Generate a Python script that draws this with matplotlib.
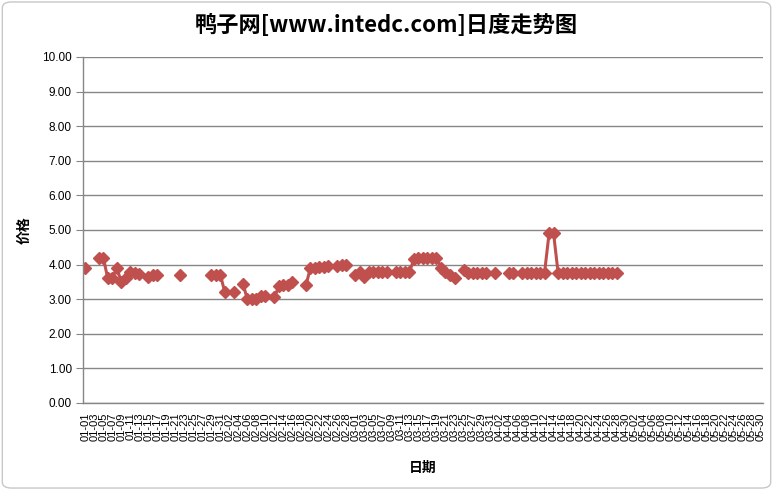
import matplotlib
matplotlib.use("Agg")
import matplotlib.pyplot as plt
import numpy as np
import pandas as pd
from matplotlib.patches import FancyBboxPatch

plt.rcParams['font.family'] = ['Liberation Sans', 'Noto Sans CJK SC', 'DejaVu Sans']

# 2012 daily price, missing days are gaps in the line
all_days = pd.date_range("2012-01-01", "2012-05-30", freq="D")

dates = [
    "01-01", "01-04", "01-05", "01-06", "01-07", "01-08", "01-09", "01-10",
    "01-11", "01-12", "01-13", "01-15", "01-16", "01-17", "01-22",
    "01-29", "01-30", "01-31", "02-01", "02-03", "02-05", "02-06", "02-07",
    "02-08", "02-09", "02-10", "02-12", "02-13", "02-14", "02-15", "02-16",
    "02-19", "02-20", "02-21", "02-22", "02-23", "02-24", "02-26", "02-27",
    "02-28", "03-01", "03-02", "03-03", "03-04", "03-05", "03-06", "03-07",
    "03-08", "03-10", "03-11", "03-12", "03-13", "03-14", "03-15", "03-16",
    "03-17", "03-18", "03-19", "03-20", "03-21", "03-22", "03-23", "03-25",
    "03-26", "03-27", "03-28", "03-29", "03-30", "04-01", "04-04", "04-05",
    "04-07", "04-08", "04-09", "04-10", "04-11", "04-12", "04-13", "04-14",
    "04-15", "04-16", "04-17", "04-18", "04-19", "04-20", "04-21", "04-22",
    "04-23", "04-24", "04-25", "04-26", "04-27", "04-28",
]
prices = [
    3.90, 4.20, 4.20, 3.60, 3.60, 3.90, 3.50, 3.60,
    3.80, 3.75, 3.72, 3.65, 3.70, 3.70, 3.70,
    3.70, 3.70, 3.70, 3.20, 3.20, 3.45, 3.00, 3.00,
    3.00, 3.10, 3.10, 3.05, 3.38, 3.40, 3.42, 3.50,
    3.40, 3.90, 3.90, 3.92, 3.93, 3.97, 3.95, 3.98,
    3.98, 3.70, 3.78, 3.65, 3.80, 3.80, 3.80, 3.80,
    3.80, 3.80, 3.80, 3.80, 3.80, 4.15, 4.20, 4.20,
    4.20, 4.20, 4.20, 3.90, 3.80, 3.70, 3.60, 3.85,
    3.77, 3.77, 3.77, 3.77, 3.77, 3.77, 3.77, 3.77,
    3.77, 3.77, 3.77, 3.77, 3.77, 3.77, 4.90, 4.90,
    3.77, 3.77, 3.77, 3.77, 3.77, 3.77, 3.77, 3.77,
    3.77, 3.77, 3.77, 3.77, 3.77, 3.77,
]

series = pd.Series(prices, index=pd.to_datetime(["2012-" + d for d in dates]))
series = series.reindex(all_days)
day_labels = [d.strftime("%m-%d") for d in all_days]
x = np.arange(len(all_days))

fig = plt.figure(figsize=(7.73, 4.90), dpi=100)
ax = fig.add_axes([0.1074, 0.1776, 0.8796, 0.7061])

# outer chart frame
frame = FancyBboxPatch((0.003, 0.004), 0.994, 0.992, boxstyle="round,pad=0,rounding_size=0.012",
                       transform=fig.transFigure, fill=False, edgecolor="#c8c8c8", linewidth=1)
fig.patches.append(frame)

ax.plot(x, series.values, color="#c0504d", linewidth=2.2, marker="D", markersize=6,
        markerfacecolor="#c0504d", markeredgecolor="#c0504d")

ax.set_xlim(-0.5, len(all_days) - 0.5)
ax.set_ylim(0, 10)
ax.set_yticks(np.arange(0, 11, 1))
ax.set_yticklabels(["%.2f" % v for v in np.arange(0, 11, 1)], fontsize=8.5)
ax.set_xticks(x[::2])
ax.set_xticklabels(day_labels[::2], rotation=90, fontsize=8)
ax.tick_params(axis="x", length=0, pad=7)
ax.tick_params(axis="y", length=5, color="#868686", pad=3)

ax.grid(axis="y", color="#868686", linewidth=1)
ax.set_axisbelow(True)
for s in ["top", "right"]:
    ax.spines[s].set_visible(False)
for s in ["left", "bottom"]:
    ax.spines[s].set_color("#868686")
    ax.spines[s].set_linewidth(1)

ax.set_xlabel("日期", fontsize=10, fontweight="bold", family=["Noto Sans CJK SC"], labelpad=14)
ax.set_ylabel("价格", fontsize=10, fontweight="bold", family=["Noto Sans CJK SC"], labelpad=8)
fig.suptitle("鸭子网[www.intedc.com]日度走势图", fontsize=16, y=0.972,
             fontweight="bold", family=["Noto Sans CJK SC"])

fig.savefig("out.png", dpi=100)
